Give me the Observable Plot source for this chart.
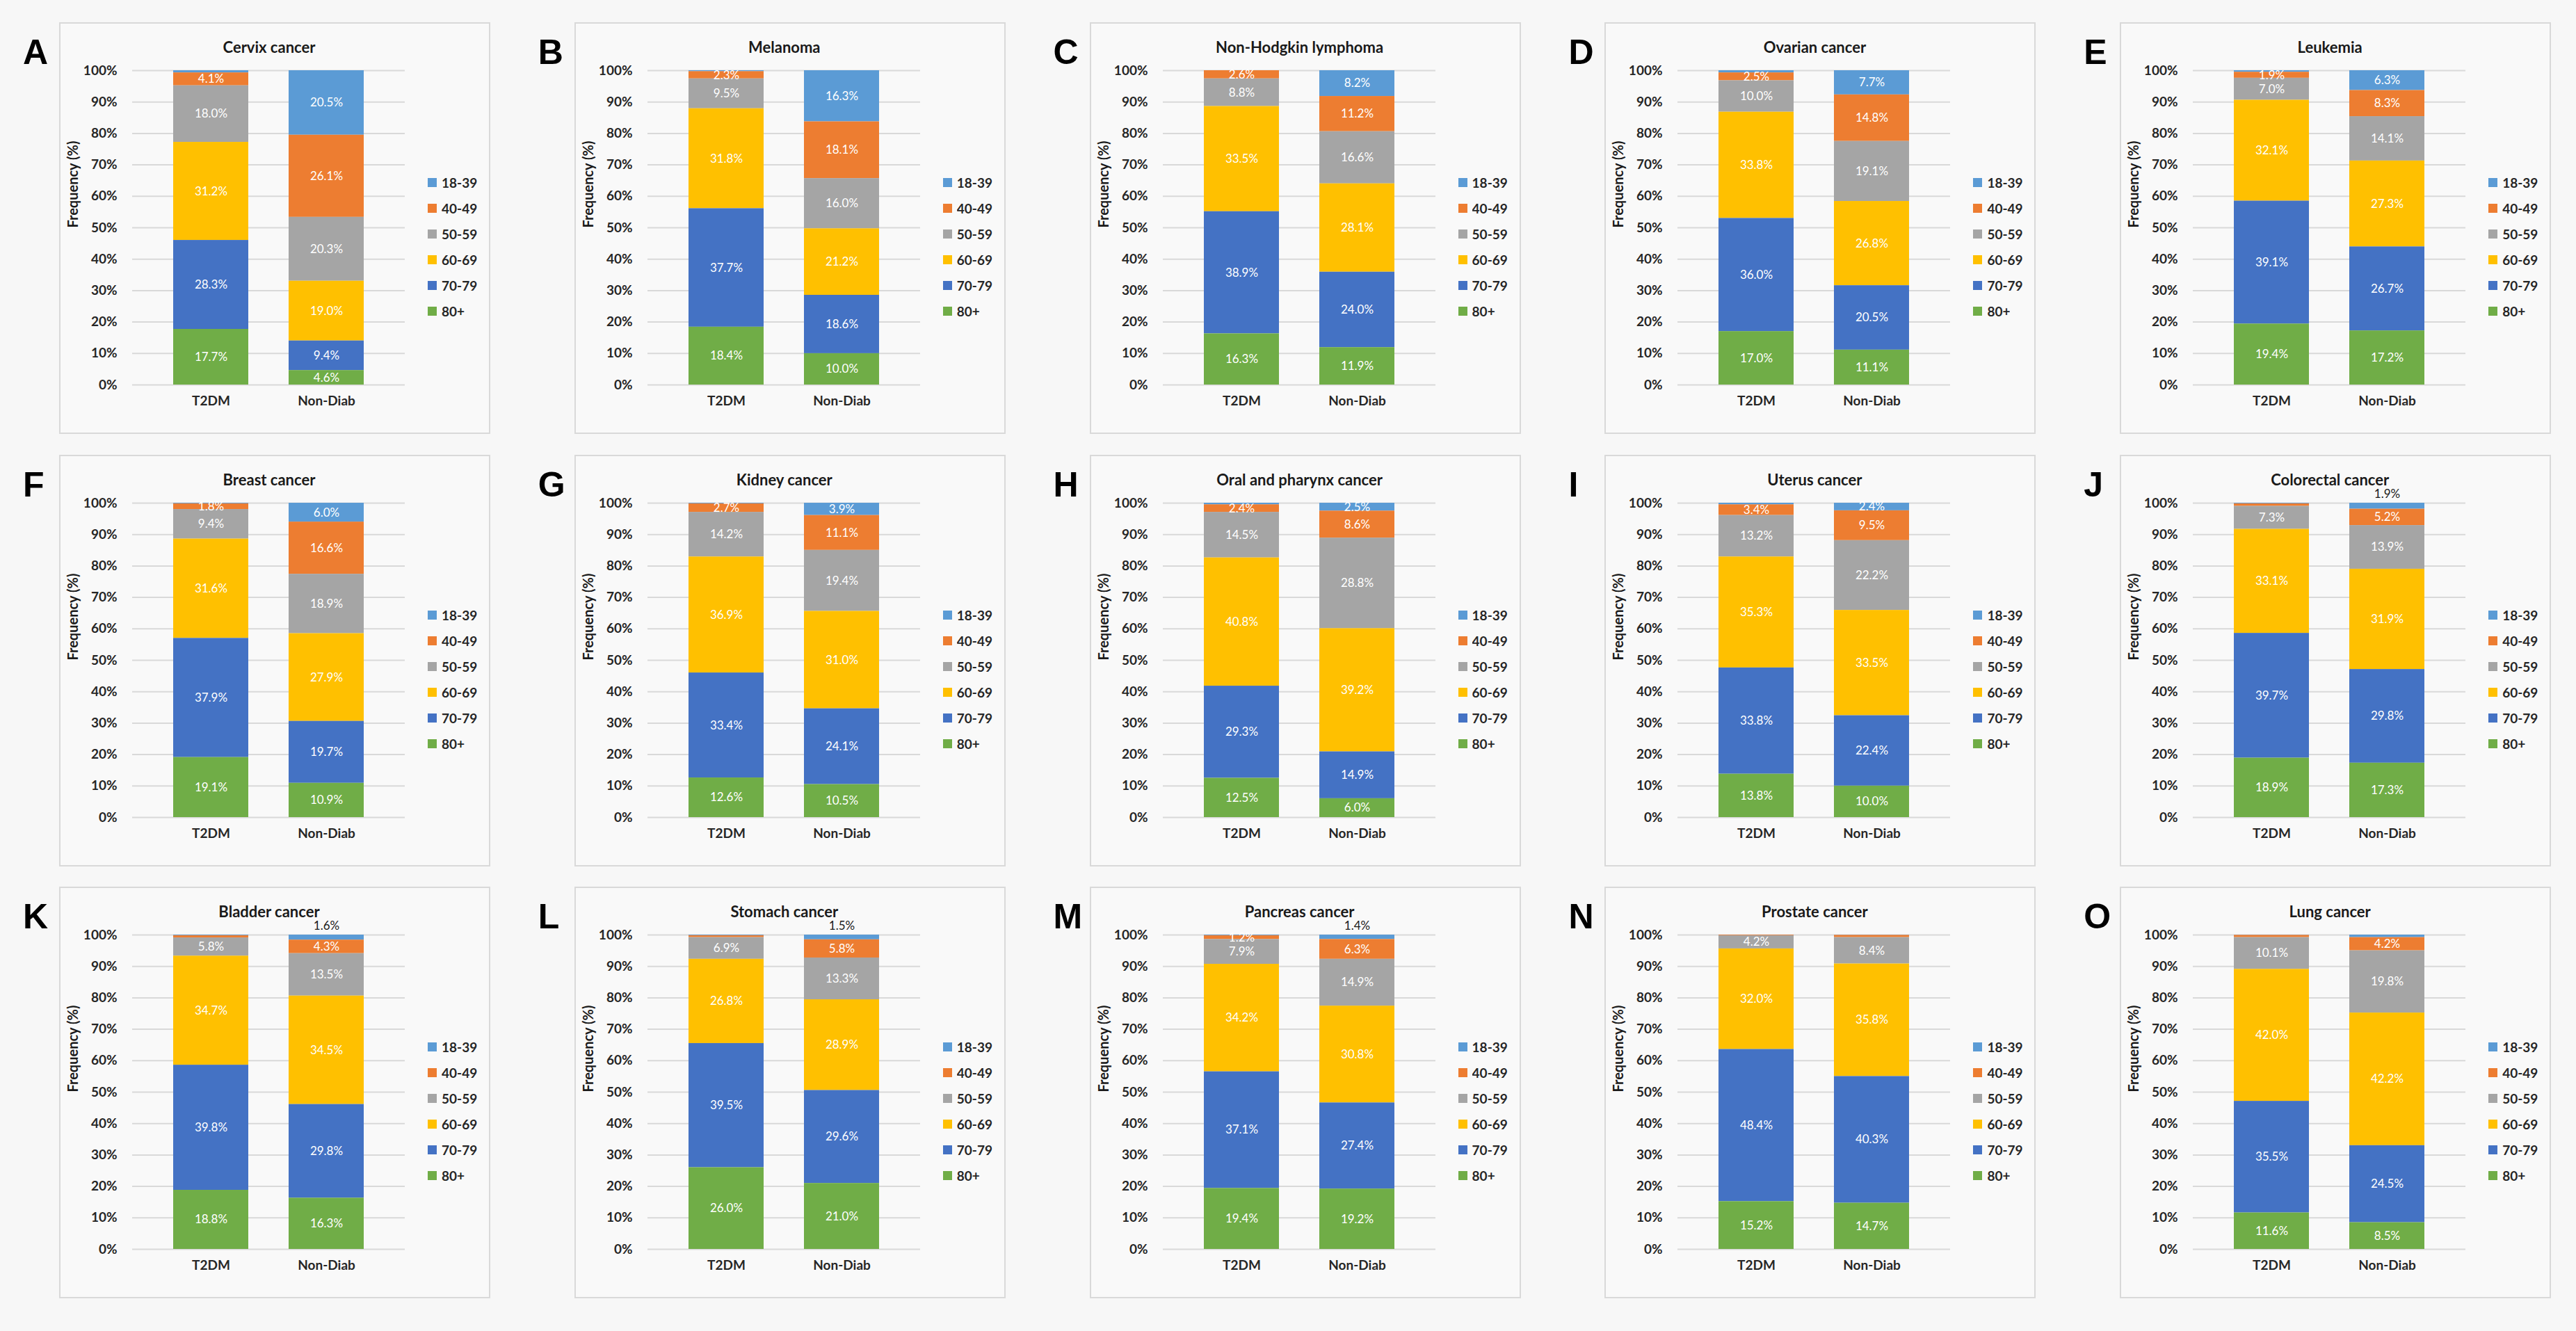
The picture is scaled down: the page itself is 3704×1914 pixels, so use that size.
<!DOCTYPE html>
<html>
<head>
<meta charset="utf-8">
<script src="https://cdn.jsdelivr.net/npm/d3@7"></script>
<script src="https://cdn.jsdelivr.net/npm/@observablehq/plot@0.6"></script>
<style>
html, body { margin: 0; padding: 0; background: #f7f7f7; }
#fig { position: relative; width: 3704px; height: 1914px; background: #f7f7f7; font-family: Lato, "Open Sans", sans-serif; overflow: hidden; }
.panel { position: absolute; width: 616px; height: 588px; border: 2px solid #d9d9d9; background: #f9f9f9; }
.panel > svg { position: absolute; left: 0; top: 0; }
.panel > svg g[aria-label="x-axis tick label"] text,
.panel > svg g[aria-label="y-axis tick label"] text { font-weight: bold; }
.letter { position: absolute; font-family: "Liberation Sans", Arial, sans-serif; font-weight: bold; font-size: 50px; line-height: 50px; color: #000; }
.title { position: absolute; left: 0; width: 600px; text-align: center; font-size: 22px; line-height: 28px; color: #1a1a1a; font-family: Lato, sans-serif; font-weight: bold; }
.legend { position: absolute; left: 528px; top: 210px; width: 86px; }
.lg-swatches { font-family: Lato, sans-serif !important; font-size: 19px !important; color: #262626; margin: 0 !important; font-weight: bold; }
.lg-swatch { display: flex; align-items: center; height: 37px; padding: 0 !important; }
.lg-swatch > svg { margin-right: 7px !important; flex: none; }
</style>
</head>
<body>
<div id="fig"></div>
<script>
// ---- data ----
const panelLetters = ["A","B","C","D","E","F","G","H","I","J","K","L","M","N","O"];
const panelTitles = [
  "Cervix cancer", "Melanoma", "Non-Hodgkin lymphoma", "Ovarian cancer", "Leukemia",
  "Breast cancer", "Kidney cancer", "Oral and pharynx cancer", "Uterus cancer", "Colorectal cancer",
  "Bladder cancer", "Stomach cancer", "Pancreas cancer", "Prostate cancer", "Lung cancer"
];
const groups = ["T2DM", "Non-Diab"];
const ages = ["18-39", "40-49", "50-59", "60-69", "70-79", "80+"];
const ageColors = ["#5B9BD5", "#ED7D31", "#A5A5A5", "#FFC000", "#4472C4", "#70AD47"];
const stackOrder = ["80+", "70-79", "60-69", "50-59", "40-49", "18-39"];
const yTicks = [0, 0.1, 0.2, 0.3, 0.4, 0.5, 0.6, 0.7, 0.8, 0.9, 1];

// values per panel, ordered as ages (18-39 ... 80+), in %
const t2dmValues = [
  [0.7, 4.1, 18.0, 31.2, 28.3, 17.7],
  [0.3, 2.3, 9.5, 31.8, 37.7, 18.4],
  [0.0, 2.6, 8.8, 33.5, 38.9, 16.3],
  [0.7, 2.5, 10.0, 33.8, 36.0, 17.0],
  [0.5, 1.9, 7.0, 32.1, 39.1, 19.4],
  [0.2, 1.8, 9.4, 31.6, 37.9, 19.1],
  [0.2, 2.7, 14.2, 36.9, 33.4, 12.6],
  [0.5, 2.4, 14.5, 40.8, 29.3, 12.5],
  [0.5, 3.4, 13.2, 35.3, 33.8, 13.8],
  [0.2, 0.8, 7.3, 33.1, 39.7, 18.9],
  [0.2, 0.7, 5.8, 34.7, 39.8, 18.8],
  [0.2, 0.6, 6.9, 26.8, 39.5, 26.0],
  [0.2, 1.2, 7.9, 34.2, 37.1, 19.4],
  [0.0, 0.2, 4.2, 32.0, 48.4, 15.2],
  [0.1, 0.7, 10.1, 42.0, 35.5, 11.6]
];
const nonDiabValues = [
  [20.5, 26.1, 20.3, 19.0, 9.4, 4.6],
  [16.3, 18.1, 16.0, 21.2, 18.6, 10.0],
  [8.2, 11.2, 16.6, 28.1, 24.0, 11.9],
  [7.7, 14.8, 19.1, 26.8, 20.5, 11.1],
  [6.3, 8.3, 14.1, 27.3, 26.7, 17.2],
  [6.0, 16.6, 18.9, 27.9, 19.7, 10.9],
  [3.9, 11.1, 19.4, 31.0, 24.1, 10.5],
  [2.5, 8.6, 28.8, 39.2, 14.9, 6.0],
  [2.4, 9.5, 22.2, 33.5, 22.4, 10.0],
  [1.9, 5.2, 13.9, 31.9, 29.8, 17.3],
  [1.6, 4.3, 13.5, 34.5, 29.8, 16.3],
  [1.5, 5.8, 13.3, 28.9, 29.6, 21.0],
  [1.4, 6.3, 14.9, 30.8, 27.4, 19.2],
  [0.1, 0.7, 8.4, 35.8, 40.3, 14.7],
  [0.8, 4.2, 19.8, 42.2, 24.5, 8.5]
];

// ---- layout ----
const fig = document.getElementById("fig");
const cellW = 3704 / 5;
const rowTops = [32, 654, 1275];

const isAbove = d => d.age === "18-39" && d.group === "Non-Diab" && d.value >= 1 && d.value < 2.2;
const isInside = d => d.value >= 1 && !isAbove(d);
const fmt = v => v.toFixed(1) + "%";

panelLetters.forEach((letter, p) => {
  const col = p % 5, row = Math.floor(p / 5);
  const cx = col * cellW;
  const top = rowTops[row];

  const L = document.createElement("div");
  L.className = "letter";
  L.style.left = (cx + 33) + "px";
  L.style.top = (top + 18) + "px";
  L.textContent = letter;
  fig.appendChild(L);

  const panel = document.createElement("div");
  panel.className = "panel";
  panel.style.left = (cx + 85) + "px";
  panel.style.top = top + "px";
  fig.appendChild(panel);

  const rows = [];
  groups.forEach((g, gi) => {
    const vals = gi === 0 ? t2dmValues[p] : nonDiabValues[p];
    ages.forEach((a, ai) => rows.push({group: g, age: a, value: vals[ai]}));
  });

  const stackOpts = {x: "group", y: "value", z: "age", order: stackOrder, offset: "normalize"};

  const chart = Plot.plot({
    width: 616, height: 588,
    marginLeft: 103, marginRight: 121, marginTop: 67, marginBottom: 69,
    style: {fontFamily: "Lato, sans-serif", fontSize: "19px", color: "#262626", background: "transparent", overflow: "visible"},
    x: {domain: groups, padding: 0.35, label: null, tickSize: 0, tickPadding: 16},
    y: {domain: [0, 1], ticks: yTicks, tickFormat: d3.format(".0%"), tickSize: 0, tickPadding: 22, label: null},
    color: {domain: ages, range: ageColors},
    marks: [
      Plot.ruleY(yTicks, {stroke: "#d9d9d9", strokeWidth: 2}),
      Plot.barY(rows, Plot.stackY({...stackOpts, fill: "age"})),
      Plot.text(rows, Plot.stackY({...stackOpts, text: d => isInside(d) ? fmt(d.value) : "", fill: "white", fontSize: 17})),
      Plot.text(rows, Plot.stackY2({...stackOpts, text: d => isAbove(d) ? fmt(d.value) : "", fill: "#1a1a1a", fontSize: 17, dy: -13})),
      Plot.text(["Frequency (%)"], {frameAnchor: "left", dx: -85, rotate: -90, text: d => d, fontSize: 20, fontWeight: "bold", fill: "#1a1a1a"})
    ]
  });
  panel.appendChild(chart);

  const title = document.createElement("div");
  title.className = "title";
  title.style.top = "20px";
  title.textContent = panelTitles[p];
  panel.appendChild(title);

  const lgWrap = document.createElement("div");
  lgWrap.className = "legend";
  const lg = Plot.legend({
    color: {domain: ages, range: ageColors},
    legend: "swatches",
    columns: 1,
    swatchSize: 13,
    className: "lg"
  });
  lgWrap.appendChild(lg);
  panel.appendChild(lgWrap);
});
</script>
</body>
</html>
